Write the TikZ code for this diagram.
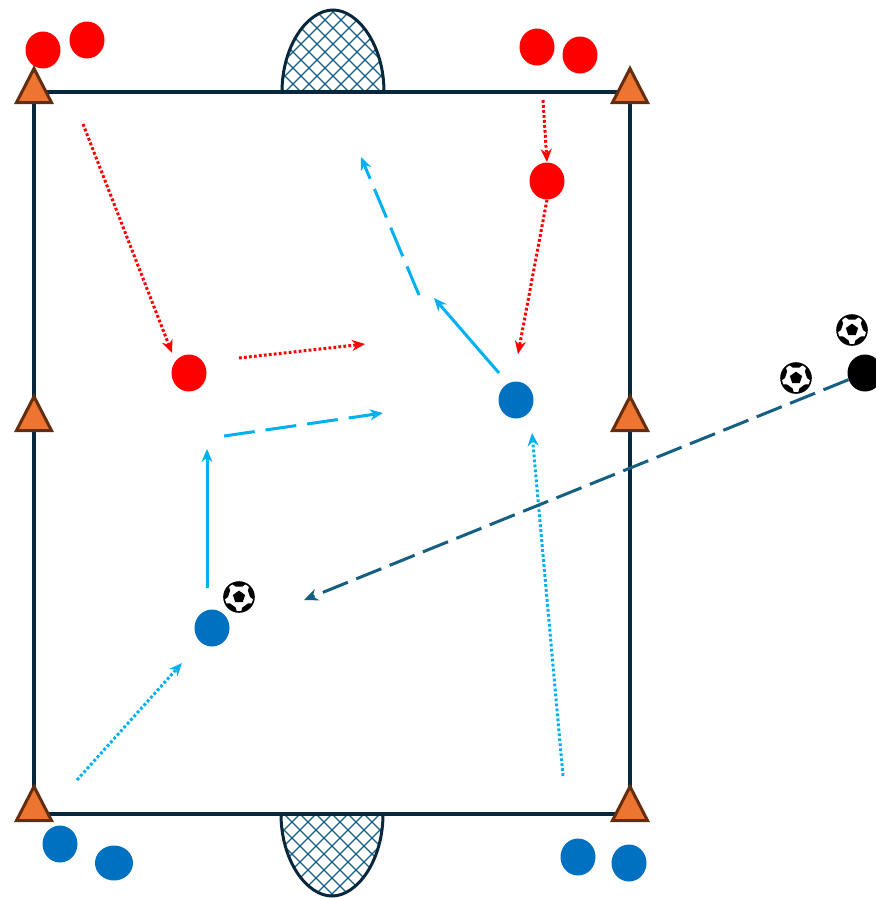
\documentclass[tikz,border=0pt]{standalone}
\definecolor{mField}{HTML}{07283C}
\definecolor{mNet}{HTML}{156082}
\definecolor{mRed}{HTML}{FF0000}
\definecolor{mBlue}{HTML}{0070C0}
\definecolor{mCyan}{HTML}{00B0F0}
\definecolor{mOrange}{HTML}{ED7431}
\definecolor{mBrown}{HTML}{642E0E}
\usepackage{tikz}
\usetikzlibrary{arrows.meta,shapes.geometric}
\begin{document}
\begin{tikzpicture}[x=1pt, y=-1pt,
  player/.style={ellipse, inner sep=0pt, minimum width=35pt, minimum height=37pt},
  redp/.style={player, fill=mRed},
  bluep/.style={player, fill=mBlue},
  cone/.style={isosceles triangle, isosceles triangle stretches, shape border rotate=90, anchor=lower side,
    minimum width=35pt, minimum height=34pt, inner sep=0pt, draw=mBrown, line width=3pt, fill=mOrange, line join=miter},
  run/.style={-{Stealth[length=13pt, width=11pt]}, line width=3pt},
  dotline/.style={run, dash pattern=on 2.8pt off 2.2pt},
  longdash/.style={run, dash pattern=on 31pt off 11pt},
  goal/.pic={
    \begin{scope}
      \clip (-51,0) .. controls (-51,-47) and (-25,-82) .. (0,-82) .. controls (25,-82) and (51,-47) .. (51,0) -- cycle;
      \foreach \k in {-176,-160,...,80}{
        \draw[mNet, line width=1.3pt] (\k,0) -- (\k+90,-90);
        \draw[mNet, line width=1.3pt] (-\k,0) -- (-\k-90,-90);
      }
    \end{scope}
    \draw[mField, line width=3pt] (-51,0) .. controls (-51,-47) and (-25,-82) .. (0,-82) .. controls (25,-82) and (51,-47) .. (51,0);
  },
  ball/.pic={
    \draw[fill=white, line width=1.6pt] (0,0) circle (15);
    \begin{scope}
      \clip (0,0) circle (15);
      \foreach \a in {270,342,54,126,198}{
        \fill (\a-30:16) -- (\a-18:11) -- (\a+18:11) -- (\a+30:16) -- (\a:22) -- cycle;
      }
      \fill (270:6.4) -- (342:6.4) -- (54:6.4) -- (126:6.4) -- (198:6.4) -- cycle;
    \end{scope}
  }]
\useasboundingbox (0,0) rectangle (876,898);
% nets
\pic at (333,92) {goal};
\pic[yscale=-1] at (332,814) {goal};
% field
\node[draw=mField, line width=4.2pt, inner sep=0pt, minimum width=596pt, minimum height=722pt] (field) at (332,453) {};
% cones
\node[cone] (c1) at (34,104) {};
\node[cone] (c2) at (34,432) {};
\node[cone] (c3) at (34,822) {};
\node[cone] (c4) at (630,104) {};
\node[cone] (c5) at (630,432) {};
\node[cone] (c6) at (630,822) {};
% players
\node[redp] (r1) at (43,50) {};
\node[redp] (r2) at (87,40) {};
\node[redp] (r3) at (537,47) {};
\node[redp] (r4) at (580,55) {};
\node[redp] (r5) at (547,181) {};
\node[redp] (r6) at (189,373) {};
\node[bluep] (b1) at (60,844) {};
\node[bluep, minimum width=38pt, minimum height=35pt] (b2) at (114,863) {};
\node[bluep] (b3) at (578,857) {};
\node[bluep] (b4) at (629,863) {};
\node[bluep] (b5) at (516,400) {};
\node[bluep] (b6) at (212,628) {};
\node[player, fill=black] (coach) at (865,373) {};
% balls
\pic at (852,330) {ball};
\pic at (796,378) {ball};
\pic at (239,597) {ball};
% free ends
\coordinate (a1) at (83,124);
\coordinate (a2) at (172,353);
\coordinate (a3) at (543,100);
\coordinate (a4) at (547,162);
\coordinate (a5) at (518,354);
\coordinate (a6) at (239,358);
\coordinate (a7) at (365,344);
\coordinate (s1) at (207,588);
\coordinate (s2) at (207,449);
\coordinate (s3) at (499,373);
\coordinate (s4) at (434,298);
\coordinate (l1) at (419,295);
\coordinate (l2) at (361,157);
\coordinate (l3) at (224,436);
\coordinate (l4) at (383,413);
\coordinate (d1) at (77,780);
\coordinate (d2) at (182,663);
\coordinate (d3) at (563,776);
\coordinate (d4) at (532,433);
\coordinate (p1) at (304,600);
% connectors
\draw[dotline, mRed] (a1) -- (a2);
\draw[dotline, mRed] (a3) -- (a4);
\draw[dotline, mRed] (r5.south) -- (a5);
\draw[dotline, mRed] (a6) -- (a7);
\draw[run, mCyan] (s1) -- (s2);
\draw[run, mCyan] (s3) -- (s4);
\draw[longdash, mCyan] (l1) -- (l2);
\draw[longdash, mCyan] (l3) -- (l4);
\draw[dotline, mCyan] (d1) -- (d2);
\draw[dotline, mCyan] (d3) -- (d4);
\draw[longdash, mNet, -{Stealth[length=14pt, width=12pt]}, dash pattern=on 27pt off 9pt] (coach) -- (p1);
\end{tikzpicture}
\end{document}
